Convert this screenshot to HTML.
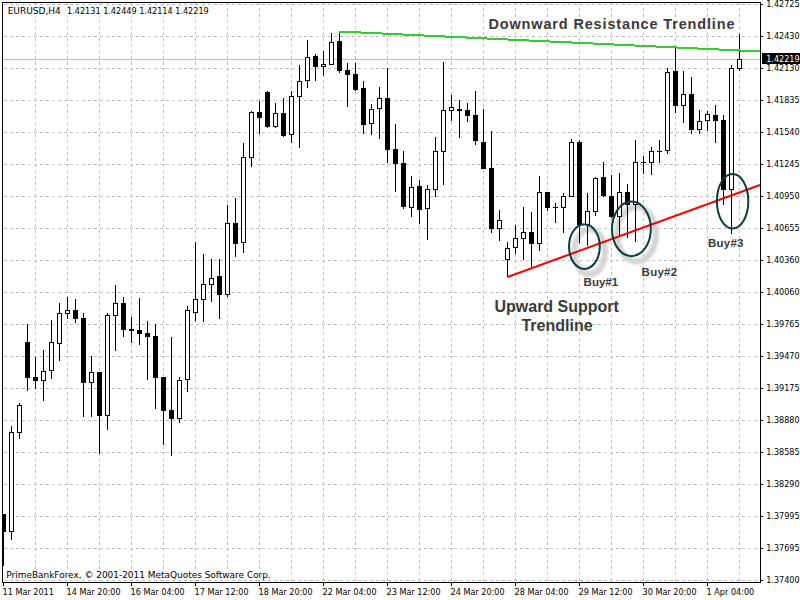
<!DOCTYPE html>
<html><head><meta charset="utf-8"><title>EURUSD,H4</title>
<style>html,body{margin:0;padding:0;background:#fff;overflow:hidden}svg{display:block}text{font-family:"Liberation Sans",sans-serif}.ax{font-family:"DejaVu Sans Condensed","Liberation Sans",sans-serif;font-size:9px;fill:#000}.axw{font-family:"DejaVu Sans","Liberation Sans",sans-serif;font-size:9px;fill:#000}.an{font-weight:bold;fill:#3a3a3a}</style></head><body>
<svg width="800" height="600" viewBox="0 0 800 600">
<defs><filter id="sh" x="-30%" y="-30%" width="160%" height="160%"><feGaussianBlur stdDeviation="0.8"/></filter></defs>
<rect width="800" height="600" fill="#fff"/>
<g shape-rendering="crispEdges" fill="none" stroke="#c0c0c0" stroke-width="1" stroke-dasharray="3 3">
<line x1="4" y1="4.5" x2="760" y2="4.5"/>
<line x1="4" y1="36.5" x2="760" y2="36.5"/>
<line x1="4" y1="68.5" x2="760" y2="68.5"/>
<line x1="4" y1="100.5" x2="760" y2="100.5"/>
<line x1="4" y1="132.5" x2="760" y2="132.5"/>
<line x1="4" y1="164.5" x2="760" y2="164.5"/>
<line x1="4" y1="196.5" x2="760" y2="196.5"/>
<line x1="4" y1="228.5" x2="760" y2="228.5"/>
<line x1="4" y1="260.5" x2="760" y2="260.5"/>
<line x1="4" y1="292.5" x2="760" y2="292.5"/>
<line x1="4" y1="324.5" x2="760" y2="324.5"/>
<line x1="4" y1="356.5" x2="760" y2="356.5"/>
<line x1="4" y1="388.5" x2="760" y2="388.5"/>
<line x1="4" y1="420.5" x2="760" y2="420.5"/>
<line x1="4" y1="452.5" x2="760" y2="452.5"/>
<line x1="4" y1="484.5" x2="760" y2="484.5"/>
<line x1="4" y1="516.5" x2="760" y2="516.5"/>
<line x1="4" y1="548.5" x2="760" y2="548.5"/>
<line x1="4" y1="580.5" x2="760" y2="580.5"/>
<line x1="35.5" y1="2" x2="35.5" y2="582"/>
<line x1="67.5" y1="2" x2="67.5" y2="582"/>
<line x1="99.5" y1="2" x2="99.5" y2="582"/>
<line x1="131.5" y1="2" x2="131.5" y2="582"/>
<line x1="163.5" y1="2" x2="163.5" y2="582"/>
<line x1="195.5" y1="2" x2="195.5" y2="582"/>
<line x1="227.5" y1="2" x2="227.5" y2="582"/>
<line x1="259.5" y1="2" x2="259.5" y2="582"/>
<line x1="291.5" y1="2" x2="291.5" y2="582"/>
<line x1="323.5" y1="2" x2="323.5" y2="582"/>
<line x1="355.5" y1="2" x2="355.5" y2="582"/>
<line x1="387.5" y1="2" x2="387.5" y2="582"/>
<line x1="419.5" y1="2" x2="419.5" y2="582"/>
<line x1="451.5" y1="2" x2="451.5" y2="582"/>
<line x1="483.5" y1="2" x2="483.5" y2="582"/>
<line x1="515.5" y1="2" x2="515.5" y2="582"/>
<line x1="547.5" y1="2" x2="547.5" y2="582"/>
<line x1="579.5" y1="2" x2="579.5" y2="582"/>
<line x1="611.5" y1="2" x2="611.5" y2="582"/>
<line x1="643.5" y1="2" x2="643.5" y2="582"/>
<line x1="675.5" y1="2" x2="675.5" y2="582"/>
<line x1="707.5" y1="2" x2="707.5" y2="582"/>
<line x1="739.5" y1="2" x2="739.5" y2="582"/>
</g>
<g fill="none">
<ellipse cx="589.6" cy="251.8" rx="15.4" ry="22.4" stroke="#d5d5d5" stroke-width="6.3" filter="url(#sh)"/>
<ellipse cx="636.6" cy="234.1" rx="19.4" ry="27.3" stroke="#d5d5d5" stroke-width="6.3" filter="url(#sh)"/>
</g>
<rect x="7" y="5" width="203" height="11" fill="#fff"/>
<rect x="5" y="569" width="267" height="11" fill="#fff"/>
<rect x="3" y="59" width="757" height="1" fill="#c0c0c0" shape-rendering="crispEdges"/>
<g shape-rendering="crispEdges">
<rect x="3" y="514" width="1" height="52" fill="#000"/>
<rect x="1" y="514" width="5" height="18" fill="#000"/>
<rect x="11" y="426" width="1" height="114" fill="#000"/>
<rect x="9" y="432" width="5" height="100" fill="#000"/>
<rect x="10" y="433" width="3" height="98" fill="#fff"/>
<rect x="19" y="403" width="1" height="36" fill="#000"/>
<rect x="17" y="405" width="5" height="28" fill="#000"/>
<rect x="18" y="406" width="3" height="26" fill="#fff"/>
<rect x="27" y="324" width="1" height="67" fill="#000"/>
<rect x="25" y="342" width="5" height="36" fill="#000"/>
<rect x="35" y="357" width="1" height="32" fill="#000"/>
<rect x="33" y="377" width="5" height="4" fill="#000"/>
<rect x="43" y="350" width="1" height="51" fill="#000"/>
<rect x="41" y="371" width="5" height="10" fill="#000"/>
<rect x="42" y="372" width="3" height="8" fill="#fff"/>
<rect x="51" y="320" width="1" height="59" fill="#000"/>
<rect x="49" y="342" width="5" height="29" fill="#000"/>
<rect x="50" y="343" width="3" height="27" fill="#fff"/>
<rect x="59" y="303" width="1" height="58" fill="#000"/>
<rect x="57" y="313" width="5" height="31" fill="#000"/>
<rect x="58" y="314" width="3" height="29" fill="#fff"/>
<rect x="67" y="297" width="1" height="22" fill="#000"/>
<rect x="65" y="310" width="5" height="4" fill="#000"/>
<rect x="66" y="311" width="3" height="2" fill="#fff"/>
<rect x="75" y="299" width="1" height="24" fill="#000"/>
<rect x="73" y="310" width="5" height="9" fill="#000"/>
<rect x="83" y="313" width="1" height="104" fill="#000"/>
<rect x="81" y="318" width="5" height="65" fill="#000"/>
<rect x="91" y="356" width="1" height="61" fill="#000"/>
<rect x="89" y="372" width="5" height="11" fill="#000"/>
<rect x="90" y="373" width="3" height="9" fill="#fff"/>
<rect x="99" y="372" width="1" height="82" fill="#000"/>
<rect x="97" y="372" width="5" height="44" fill="#000"/>
<rect x="107" y="313" width="1" height="117" fill="#000"/>
<rect x="105" y="315" width="5" height="101" fill="#000"/>
<rect x="106" y="316" width="3" height="99" fill="#fff"/>
<rect x="115" y="285" width="1" height="66" fill="#000"/>
<rect x="113" y="303" width="5" height="13" fill="#000"/>
<rect x="114" y="304" width="3" height="11" fill="#fff"/>
<rect x="123" y="297" width="1" height="40" fill="#000"/>
<rect x="121" y="303" width="5" height="27" fill="#000"/>
<rect x="131" y="317" width="1" height="26" fill="#000"/>
<rect x="129" y="329" width="5" height="2" fill="#000"/>
<rect x="139" y="298" width="1" height="47" fill="#000"/>
<rect x="137" y="330" width="5" height="4" fill="#000"/>
<rect x="147" y="321" width="1" height="59" fill="#000"/>
<rect x="145" y="333" width="5" height="4" fill="#000"/>
<rect x="155" y="324" width="1" height="85" fill="#000"/>
<rect x="153" y="336" width="5" height="42" fill="#000"/>
<rect x="163" y="377" width="1" height="68" fill="#000"/>
<rect x="161" y="377" width="5" height="34" fill="#000"/>
<rect x="171" y="337" width="1" height="119" fill="#000"/>
<rect x="169" y="410" width="5" height="9" fill="#000"/>
<rect x="179" y="377" width="1" height="46" fill="#000"/>
<rect x="177" y="380" width="5" height="39" fill="#000"/>
<rect x="178" y="381" width="3" height="37" fill="#fff"/>
<rect x="187" y="306" width="1" height="86" fill="#000"/>
<rect x="185" y="310" width="5" height="70" fill="#000"/>
<rect x="186" y="311" width="3" height="68" fill="#fff"/>
<rect x="195" y="242" width="1" height="79" fill="#000"/>
<rect x="193" y="299" width="5" height="14" fill="#000"/>
<rect x="194" y="300" width="3" height="12" fill="#fff"/>
<rect x="203" y="254" width="1" height="68" fill="#000"/>
<rect x="201" y="284" width="5" height="16" fill="#000"/>
<rect x="202" y="285" width="3" height="14" fill="#fff"/>
<rect x="211" y="259" width="1" height="43" fill="#000"/>
<rect x="209" y="278" width="5" height="7" fill="#000"/>
<rect x="210" y="279" width="3" height="5" fill="#fff"/>
<rect x="219" y="259" width="1" height="60" fill="#000"/>
<rect x="217" y="276" width="5" height="19" fill="#000"/>
<rect x="227" y="205" width="1" height="92" fill="#000"/>
<rect x="225" y="223" width="5" height="72" fill="#000"/>
<rect x="226" y="224" width="3" height="70" fill="#fff"/>
<rect x="235" y="198" width="1" height="59" fill="#000"/>
<rect x="233" y="223" width="5" height="21" fill="#000"/>
<rect x="243" y="143" width="1" height="110" fill="#000"/>
<rect x="241" y="157" width="5" height="86" fill="#000"/>
<rect x="242" y="158" width="3" height="84" fill="#fff"/>
<rect x="251" y="111" width="1" height="56" fill="#000"/>
<rect x="249" y="112" width="5" height="46" fill="#000"/>
<rect x="250" y="113" width="3" height="44" fill="#fff"/>
<rect x="259" y="101" width="1" height="33" fill="#000"/>
<rect x="257" y="112" width="5" height="6" fill="#000"/>
<rect x="267" y="91" width="1" height="37" fill="#000"/>
<rect x="265" y="92" width="5" height="35" fill="#000"/>
<rect x="275" y="103" width="1" height="25" fill="#000"/>
<rect x="273" y="113" width="5" height="14" fill="#000"/>
<rect x="274" y="114" width="3" height="12" fill="#fff"/>
<rect x="283" y="98" width="1" height="39" fill="#000"/>
<rect x="281" y="113" width="5" height="23" fill="#000"/>
<rect x="291" y="91" width="1" height="52" fill="#000"/>
<rect x="289" y="96" width="5" height="39" fill="#000"/>
<rect x="290" y="97" width="3" height="37" fill="#fff"/>
<rect x="299" y="65" width="1" height="83" fill="#000"/>
<rect x="297" y="81" width="5" height="16" fill="#000"/>
<rect x="298" y="82" width="3" height="14" fill="#fff"/>
<rect x="307" y="40" width="1" height="48" fill="#000"/>
<rect x="305" y="57" width="5" height="24" fill="#000"/>
<rect x="306" y="58" width="3" height="22" fill="#fff"/>
<rect x="315" y="54" width="1" height="27" fill="#000"/>
<rect x="313" y="56" width="5" height="11" fill="#000"/>
<rect x="323" y="51" width="1" height="25" fill="#000"/>
<rect x="321" y="64" width="5" height="3" fill="#000"/>
<rect x="322" y="65" width="3" height="1" fill="#fff"/>
<rect x="331" y="33" width="1" height="32" fill="#000"/>
<rect x="329" y="42" width="5" height="23" fill="#000"/>
<rect x="330" y="43" width="3" height="21" fill="#fff"/>
<rect x="339" y="32" width="1" height="41" fill="#000"/>
<rect x="337" y="41" width="5" height="30" fill="#000"/>
<rect x="347" y="63" width="1" height="44" fill="#000"/>
<rect x="345" y="70" width="5" height="5" fill="#000"/>
<rect x="355" y="63" width="1" height="28" fill="#000"/>
<rect x="353" y="74" width="5" height="16" fill="#000"/>
<rect x="363" y="81" width="1" height="53" fill="#000"/>
<rect x="361" y="88" width="5" height="37" fill="#000"/>
<rect x="371" y="104" width="1" height="31" fill="#000"/>
<rect x="369" y="109" width="5" height="15" fill="#000"/>
<rect x="370" y="110" width="3" height="13" fill="#fff"/>
<rect x="379" y="87" width="1" height="52" fill="#000"/>
<rect x="377" y="98" width="5" height="11" fill="#000"/>
<rect x="378" y="99" width="3" height="9" fill="#fff"/>
<rect x="387" y="68" width="1" height="95" fill="#000"/>
<rect x="385" y="98" width="5" height="52" fill="#000"/>
<rect x="395" y="124" width="1" height="68" fill="#000"/>
<rect x="393" y="149" width="5" height="15" fill="#000"/>
<rect x="403" y="151" width="1" height="58" fill="#000"/>
<rect x="401" y="163" width="5" height="44" fill="#000"/>
<rect x="411" y="176" width="1" height="41" fill="#000"/>
<rect x="409" y="187" width="5" height="21" fill="#000"/>
<rect x="410" y="188" width="3" height="19" fill="#fff"/>
<rect x="419" y="180" width="1" height="44" fill="#000"/>
<rect x="417" y="186" width="5" height="24" fill="#000"/>
<rect x="427" y="185" width="1" height="55" fill="#000"/>
<rect x="425" y="189" width="5" height="20" fill="#000"/>
<rect x="426" y="190" width="3" height="18" fill="#fff"/>
<rect x="435" y="137" width="1" height="60" fill="#000"/>
<rect x="433" y="151" width="5" height="39" fill="#000"/>
<rect x="434" y="152" width="3" height="37" fill="#fff"/>
<rect x="443" y="62" width="1" height="123" fill="#000"/>
<rect x="441" y="110" width="5" height="42" fill="#000"/>
<rect x="442" y="111" width="3" height="40" fill="#fff"/>
<rect x="451" y="95" width="1" height="26" fill="#000"/>
<rect x="449" y="107" width="5" height="4" fill="#000"/>
<rect x="450" y="108" width="3" height="2" fill="#fff"/>
<rect x="459" y="100" width="1" height="38" fill="#000"/>
<rect x="457" y="109" width="5" height="2" fill="#000"/>
<rect x="467" y="103" width="1" height="19" fill="#000"/>
<rect x="465" y="110" width="5" height="6" fill="#000"/>
<rect x="475" y="91" width="1" height="54" fill="#000"/>
<rect x="473" y="115" width="5" height="26" fill="#000"/>
<rect x="483" y="109" width="1" height="60" fill="#000"/>
<rect x="481" y="142" width="5" height="27" fill="#000"/>
<rect x="491" y="131" width="1" height="102" fill="#000"/>
<rect x="489" y="168" width="5" height="61" fill="#000"/>
<rect x="499" y="210" width="1" height="31" fill="#000"/>
<rect x="497" y="220" width="5" height="9" fill="#000"/>
<rect x="498" y="221" width="3" height="7" fill="#fff"/>
<rect x="507" y="242" width="1" height="35" fill="#000"/>
<rect x="505" y="248" width="5" height="12" fill="#000"/>
<rect x="506" y="249" width="3" height="10" fill="#fff"/>
<rect x="515" y="225" width="1" height="29" fill="#000"/>
<rect x="513" y="238" width="5" height="10" fill="#000"/>
<rect x="514" y="239" width="3" height="8" fill="#fff"/>
<rect x="523" y="207" width="1" height="53" fill="#000"/>
<rect x="521" y="232" width="5" height="7" fill="#000"/>
<rect x="522" y="233" width="3" height="5" fill="#fff"/>
<rect x="531" y="212" width="1" height="55" fill="#000"/>
<rect x="529" y="232" width="5" height="12" fill="#000"/>
<rect x="539" y="176" width="1" height="75" fill="#000"/>
<rect x="537" y="192" width="5" height="52" fill="#000"/>
<rect x="538" y="193" width="3" height="50" fill="#fff"/>
<rect x="547" y="192" width="1" height="19" fill="#000"/>
<rect x="545" y="192" width="5" height="16" fill="#000"/>
<rect x="555" y="203" width="1" height="20" fill="#000"/>
<rect x="553" y="207" width="5" height="1" fill="#000"/>
<rect x="563" y="193" width="1" height="40" fill="#000"/>
<rect x="561" y="196" width="5" height="12" fill="#000"/>
<rect x="562" y="197" width="3" height="10" fill="#fff"/>
<rect x="571" y="139" width="1" height="58" fill="#000"/>
<rect x="569" y="142" width="5" height="55" fill="#000"/>
<rect x="570" y="143" width="3" height="53" fill="#fff"/>
<rect x="579" y="140" width="1" height="103" fill="#000"/>
<rect x="577" y="142" width="5" height="83" fill="#000"/>
<rect x="587" y="193" width="1" height="53" fill="#000"/>
<rect x="585" y="211" width="5" height="14" fill="#000"/>
<rect x="586" y="212" width="3" height="12" fill="#fff"/>
<rect x="595" y="177" width="1" height="39" fill="#000"/>
<rect x="593" y="178" width="5" height="34" fill="#000"/>
<rect x="594" y="179" width="3" height="32" fill="#fff"/>
<rect x="603" y="162" width="1" height="35" fill="#000"/>
<rect x="601" y="177" width="5" height="19" fill="#000"/>
<rect x="611" y="175" width="1" height="43" fill="#000"/>
<rect x="609" y="196" width="5" height="21" fill="#000"/>
<rect x="619" y="173" width="1" height="62" fill="#000"/>
<rect x="617" y="192" width="5" height="25" fill="#000"/>
<rect x="618" y="193" width="3" height="23" fill="#fff"/>
<rect x="627" y="184" width="1" height="54" fill="#000"/>
<rect x="625" y="192" width="5" height="13" fill="#000"/>
<rect x="635" y="140" width="1" height="102" fill="#000"/>
<rect x="633" y="162" width="5" height="43" fill="#000"/>
<rect x="634" y="163" width="3" height="41" fill="#fff"/>
<rect x="643" y="156" width="1" height="18" fill="#000"/>
<rect x="641" y="162" width="5" height="1" fill="#000"/>
<rect x="651" y="147" width="1" height="28" fill="#000"/>
<rect x="649" y="151" width="5" height="12" fill="#000"/>
<rect x="650" y="152" width="3" height="10" fill="#fff"/>
<rect x="659" y="140" width="1" height="23" fill="#000"/>
<rect x="657" y="151" width="5" height="1" fill="#000"/>
<rect x="667" y="68" width="1" height="86" fill="#000"/>
<rect x="665" y="72" width="5" height="79" fill="#000"/>
<rect x="666" y="73" width="3" height="77" fill="#fff"/>
<rect x="675" y="48" width="1" height="65" fill="#000"/>
<rect x="673" y="71" width="5" height="35" fill="#000"/>
<rect x="683" y="71" width="1" height="52" fill="#000"/>
<rect x="681" y="94" width="5" height="12" fill="#000"/>
<rect x="682" y="95" width="3" height="10" fill="#fff"/>
<rect x="691" y="77" width="1" height="57" fill="#000"/>
<rect x="689" y="94" width="5" height="36" fill="#000"/>
<rect x="699" y="110" width="1" height="24" fill="#000"/>
<rect x="697" y="121" width="5" height="9" fill="#000"/>
<rect x="698" y="122" width="3" height="7" fill="#fff"/>
<rect x="707" y="111" width="1" height="20" fill="#000"/>
<rect x="705" y="114" width="5" height="7" fill="#000"/>
<rect x="706" y="115" width="3" height="5" fill="#fff"/>
<rect x="715" y="105" width="1" height="38" fill="#000"/>
<rect x="713" y="115" width="5" height="6" fill="#000"/>
<rect x="723" y="115" width="1" height="90" fill="#000"/>
<rect x="721" y="120" width="5" height="70" fill="#000"/>
<rect x="731" y="65" width="1" height="169" fill="#000"/>
<rect x="729" y="68" width="5" height="122" fill="#000"/>
<rect x="730" y="69" width="3" height="120" fill="#fff"/>
<rect x="739" y="34" width="1" height="37" fill="#000"/>
<rect x="737" y="59" width="5" height="10" fill="#000"/>
<rect x="738" y="60" width="3" height="8" fill="#fff"/>
</g>
<rect x="0" y="0" width="2" height="600" fill="#fff"/>
<g shape-rendering="crispEdges" fill="#000">
<rect x="2" y="2" width="759" height="1"/>
<rect x="2" y="2" width="1" height="581"/>
<rect x="2" y="582" width="759" height="1"/>
<rect x="760" y="2" width="1" height="581"/>
<rect x="761" y="4" width="2" height="1"/>
<rect x="761" y="36" width="2" height="1"/>
<rect x="761" y="68" width="2" height="1"/>
<rect x="761" y="100" width="2" height="1"/>
<rect x="761" y="132" width="2" height="1"/>
<rect x="761" y="164" width="2" height="1"/>
<rect x="761" y="196" width="2" height="1"/>
<rect x="761" y="228" width="2" height="1"/>
<rect x="761" y="260" width="2" height="1"/>
<rect x="761" y="292" width="2" height="1"/>
<rect x="761" y="324" width="2" height="1"/>
<rect x="761" y="356" width="2" height="1"/>
<rect x="761" y="388" width="2" height="1"/>
<rect x="761" y="420" width="2" height="1"/>
<rect x="761" y="452" width="2" height="1"/>
<rect x="761" y="484" width="2" height="1"/>
<rect x="761" y="516" width="2" height="1"/>
<rect x="761" y="548" width="2" height="1"/>
<rect x="761" y="580" width="2" height="1"/>
<rect x="3" y="583" width="1" height="3"/>
<rect x="67" y="583" width="1" height="3"/>
<rect x="131" y="583" width="1" height="3"/>
<rect x="195" y="583" width="1" height="3"/>
<rect x="259" y="583" width="1" height="3"/>
<rect x="323" y="583" width="1" height="3"/>
<rect x="387" y="583" width="1" height="3"/>
<rect x="451" y="583" width="1" height="3"/>
<rect x="515" y="583" width="1" height="3"/>
<rect x="579" y="583" width="1" height="3"/>
<rect x="643" y="583" width="1" height="3"/>
<rect x="707" y="583" width="1" height="3"/>
</g>
<g shape-rendering="crispEdges" fill="#32cd32">
<rect x="339" y="31" width="22" height="2"/>
<rect x="361" y="32" width="21" height="2"/>
<rect x="382" y="33" width="21" height="2"/>
<rect x="403" y="34" width="21" height="2"/>
<rect x="424" y="35" width="21" height="2"/>
<rect x="445" y="36" width="21" height="2"/>
<rect x="466" y="37" width="21" height="2"/>
<rect x="487" y="38" width="21" height="2"/>
<rect x="508" y="39" width="21" height="2"/>
<rect x="529" y="40" width="21" height="2"/>
<rect x="550" y="41" width="22" height="2"/>
<rect x="572" y="42" width="21" height="2"/>
<rect x="593" y="43" width="21" height="2"/>
<rect x="614" y="44" width="21" height="2"/>
<rect x="635" y="45" width="21" height="2"/>
<rect x="656" y="46" width="21" height="2"/>
<rect x="677" y="47" width="21" height="2"/>
<rect x="698" y="48" width="21" height="2"/>
<rect x="719" y="49" width="21" height="2"/>
<rect x="740" y="50" width="20" height="2"/>
</g>
<line x1="507.5" y1="277" x2="760" y2="185" stroke="#ff0000" stroke-width="2"/>
<g fill="none">
<ellipse cx="584.4" cy="246.6" rx="15.4" ry="22.4" stroke="#0d3c3c" stroke-width="2"/>
<ellipse cx="631.4" cy="228.9" rx="19.4" ry="27.3" stroke="#0d3c3c" stroke-width="2"/>
<ellipse cx="732.6" cy="201.2" rx="15.7" ry="27.2" stroke="#0d3c3c" stroke-width="2"/>
</g>
<text class="an" transform="translate(488.5,28.5) scale(1.035,1)" font-size="14" textLength="237.7" lengthAdjust="spacing">Downward Resistance Trendline</text>
<text class="an" x="556.7" y="311.5" font-size="16" text-anchor="middle">Upward Support</text>
<text class="an" x="557" y="330.5" font-size="16" text-anchor="middle">Trendline</text>
<text class="an" x="583.6" y="285.5" font-size="11.5" textLength="34.5" lengthAdjust="spacing">Buy#1</text>
<text class="an" x="641.6" y="276" font-size="11.5" textLength="35.5" lengthAdjust="spacing">Buy#2</text>
<text class="an" x="708" y="246.5" font-size="11.5" textLength="35.5" lengthAdjust="spacing">Buy#3</text>
<text class="axw" x="7.7" y="14">EURUSD,H4</text>
<text class="ax" x="67.1" y="14">1.42131 1.42449 1.42114 1.42219</text>
<text class="axw" x="6.3" y="578" textLength="264.5" lengthAdjust="spacingAndGlyphs">PrimeBankForex, © 2001-2011 MetaQuotes Software Corp.</text>
<text class="ax" x="2.6" y="595">11 Mar 2011</text>
<text class="ax" x="66.6" y="595">14 Mar 20:00</text>
<text class="ax" x="130.6" y="595">16 Mar 04:00</text>
<text class="ax" x="194.6" y="595">17 Mar 12:00</text>
<text class="ax" x="258.6" y="595">18 Mar 20:00</text>
<text class="ax" x="322.6" y="595">22 Mar 04:00</text>
<text class="ax" x="386.6" y="595">23 Mar 12:00</text>
<text class="ax" x="450.6" y="595">24 Mar 20:00</text>
<text class="ax" x="514.6" y="595">28 Mar 04:00</text>
<text class="ax" x="578.6" y="595">29 Mar 12:00</text>
<text class="ax" x="642.6" y="595">30 Mar 20:00</text>
<text class="ax" x="706.6" y="595">1 Apr 04:00</text>
<text class="ax" x="766.2" y="7">1.42725</text>
<text class="ax" x="766.2" y="39">1.42430</text>
<text class="ax" x="766.2" y="71">1.42130</text>
<text class="ax" x="766.2" y="103">1.41835</text>
<text class="ax" x="766.2" y="135">1.41540</text>
<text class="ax" x="766.2" y="167">1.41245</text>
<text class="ax" x="766.2" y="199">1.40950</text>
<text class="ax" x="766.2" y="231">1.40655</text>
<text class="ax" x="766.2" y="263">1.40360</text>
<text class="ax" x="766.2" y="295">1.40060</text>
<text class="ax" x="766.2" y="327">1.39765</text>
<text class="ax" x="766.2" y="359">1.39470</text>
<text class="ax" x="766.2" y="391">1.39175</text>
<text class="ax" x="766.2" y="423">1.38880</text>
<text class="ax" x="766.2" y="455">1.38585</text>
<text class="ax" x="766.2" y="487">1.38290</text>
<text class="ax" x="766.2" y="519">1.37995</text>
<text class="ax" x="766.2" y="551">1.37695</text>
<text class="ax" x="766.2" y="583">1.37400</text>
<rect x="762" y="53" width="38" height="11" fill="#000" shape-rendering="crispEdges"/>
<text class="ax" x="766.2" y="62" style="fill:#fff">1.42219</text>
</svg></body></html>
